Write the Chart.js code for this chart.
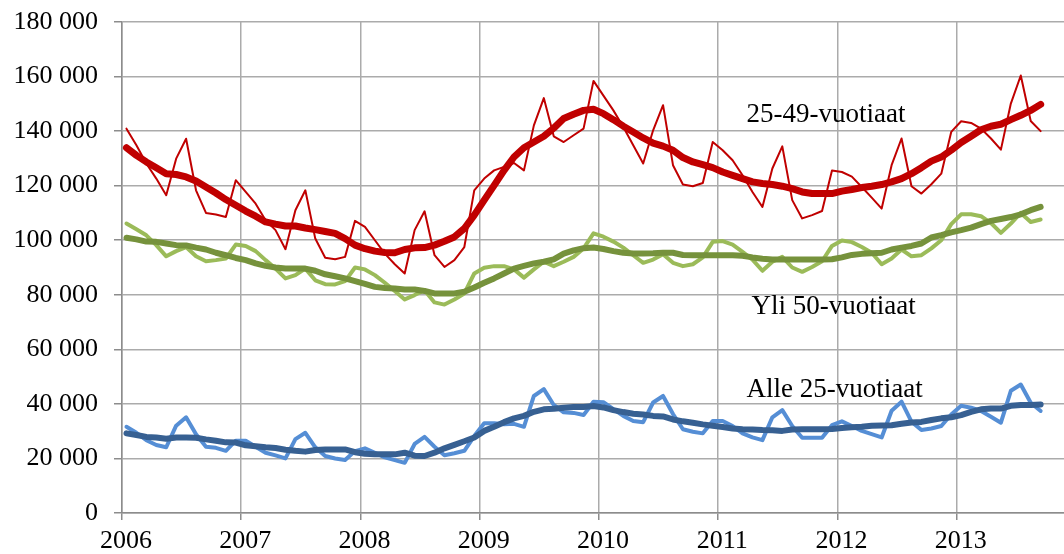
<!DOCTYPE html>
<html lang="fi">
<head>
<meta charset="utf-8">
<title>Työttömät ikäryhmittäin 2006–2013</title>
<script src="https://cdn.jsdelivr.net/npm/chart.js@4.4.0/dist/chart.umd.min.js"></script>
<style>
  html, body { margin: 0; padding: 0; background: #fff; }
  #wrap { width: 1064px; height: 554px; }
</style>
</head>
<body>
<div id="wrap"><canvas id="tyottomat" width="1064" height="554"></canvas></div>
<script>
// Kuukausiaineisto 2006/01 - 2013/09 (93 kk), luettu kuvasta
const alkuVuosi = 2006;
const vuodet = [2006, 2007, 2008, 2009, 2010, 2011, 2012, 2013];
const yTicks = [0, 20000, 40000, 60000, 80000, 100000, 120000, 140000, 160000, 180000];

const ika25_49 = [
  140900, 134800, 128100, 122600, 116500, 129900, 137200, 118300, 110000, 109400, 108500, 122000,
  117700, 113400, 107300, 103700, 96700, 111000, 118300, 100600, 93600, 93000, 93900, 107100,
  104900, 100000, 95100, 91200, 87800, 103700, 110600, 94500, 90200, 92700, 97500, 118300,
  122600, 125600, 126900, 128300, 125600, 142100, 152100, 138100, 136000, 138500, 140900, 158400,
  153000, 147600, 141500, 134800, 128100, 140300, 149500, 127500, 120400, 119800, 121000, 136000,
  133000, 129300, 123800, 117700, 112200, 126300, 134400, 114700, 108000, 109200, 110700, 125600,
  125000, 123300, 119500, 115600, 111600, 127500, 137300, 119800, 117100, 120500, 124400, 139700,
  143600, 143000, 140900, 137300, 133200, 150100, 160400, 143700, 140000
];
const ika25_49_trendi = [
  133900, 131100, 128700, 126600, 124400, 124100, 123200, 121700, 119500, 117300, 114900, 112800,
  110700, 108800, 106700, 105900, 105200, 105200, 104500, 103900, 103200, 102500, 100600, 98200,
  96900, 96000, 95500, 95400, 96600, 97200, 97300, 98200, 99600, 101200, 104300, 109200,
  114700, 120100, 125600, 130500, 133900, 136000, 138100, 141100, 144600, 146200, 147600, 148000,
  146400, 144200, 141800, 139700, 137500, 135600, 134500, 133000, 130300, 128700, 127700, 126600,
  125000, 123800, 122600, 121400, 120800, 120400, 119800, 118900, 117700, 117100, 117100, 117100,
  118000, 118600, 119300, 119800, 120400, 121400, 122600, 124400, 126600, 129000, 130500, 133000,
  135800, 138100, 140500, 141800, 142500, 144200, 145800, 147600, 149800
];
const yli50 = [
  106100, 104000, 101800, 98200, 94100, 96000, 97500, 94100, 92300, 92700, 93300, 98400,
  97900, 96000, 92700, 89600, 86000, 87200, 89600, 85300, 83900, 83800, 85000, 90000,
  89300, 87200, 84400, 81400, 78300, 79900, 81700, 77200, 76400, 78300, 80500, 87800,
  89900, 90500, 90500, 89300, 86300, 89300, 92100, 90500, 92100, 93900, 97000, 102500,
  101300, 99500, 97300, 94500, 91700, 92900, 94900, 91700, 90500, 91200, 93700, 99400,
  99700, 98400, 95700, 92900, 88800, 92100, 93900, 90000, 88400, 90200, 92300, 97900,
  99900, 99300, 97500, 95400, 91200, 93300, 96600, 94100, 94500, 97000, 100000, 105900,
  109500, 109500, 108800, 106300, 102700, 106100, 110000, 106700, 107600
];
const yli50_trendi = [
  100900, 100300, 99500, 99400, 98800, 98200, 98100, 97300, 96600, 95400, 94500, 93500,
  92700, 91500, 90600, 90000, 89600, 89600, 89600, 88800, 87500, 86800, 86000, 85000,
  84000, 82900, 82500, 82300, 81900, 81900, 81400, 80500, 80500, 80500, 81100, 82700,
  84400, 86000, 87800, 89600, 90600, 91500, 92100, 93000, 95100, 96300, 97100, 97300,
  96800, 96000, 95400, 95100, 95100, 95200, 95400, 95400, 94600, 94500, 94500, 94500,
  94500, 94500, 94300, 93700, 93200, 92900, 92900, 92900, 92900, 92900, 92900, 93000,
  93700, 94600, 95000, 95200, 95400, 96600, 97300, 97900, 98800, 101000, 101900, 102900,
  103700, 104600, 105900, 107100, 107800, 108500, 109500, 111000, 112200
];
const alle25 = [
  31600, 29400, 26700, 24900, 24100, 32000, 35100, 28900, 24300, 23900, 22800, 26500,
  26500, 24300, 22100, 21100, 20000, 27100, 29400, 24100, 20900, 20000, 19400, 22700,
  23700, 22100, 20400, 19400, 18400, 25300, 27900, 24300, 21200, 21900, 22800, 28200,
  32900, 32900, 32500, 32700, 31600, 42900, 45400, 39600, 36900, 36700, 35900, 40800,
  40600, 38100, 35600, 33700, 33300, 40500, 42900, 36300, 30700, 29800, 29200, 33700,
  33700, 31900, 29200, 27700, 26700, 35100, 37700, 31900, 27600, 27600, 27600, 32200,
  33600, 31900, 30100, 28900, 27700, 37500, 40800, 33500, 30400, 31000, 31900, 36100,
  39300, 38600, 37400, 35300, 33100, 44800, 47100, 40400, 37400
];
const alle25_trendi = [
  29200, 28600, 27900, 27700, 27200, 27700, 27700, 27600, 27000, 26500, 25900, 25800,
  24800, 24500, 24100, 23800, 23200, 22800, 22500, 23100, 23300, 23300, 23300, 22300,
  21700, 21500, 21500, 21500, 22100, 21000, 20900, 22100, 23700, 25000, 26300, 27700,
  30100, 31600, 33300, 34700, 35600, 37100, 38000, 38200, 38600, 38900, 38900, 39200,
  38700, 37700, 37000, 36400, 36100, 35600, 35400, 34300, 33600, 33100, 32500, 32000,
  31500, 31000, 30700, 30600, 30400, 30300, 30100, 30600, 30700, 30700, 30700, 30800,
  31200, 31400, 31600, 32000, 32100, 32200, 32700, 33200, 33400, 34100, 34700, 35100,
  35900, 37100, 38000, 38300, 38300, 39300, 39600, 39600, 39800
];

const FONT = "'Liberation Serif', 'Times New Roman', serif";

// kuukausi i -> piste kuukauden keskelle
function kk(arr) {
  return arr.map((v, i) => ({ x: i + 0.45, y: v }));
}

function fmtLuku(v) {
  return String(v).replace(/\B(?=(\d{3})+(?!\d))/g, ' ');
}

function sarja(label, arr, color, width, order) {
  return {
    label, data: kk(arr),
    borderColor: color, backgroundColor: color,
    borderWidth: width, pointRadius: 0, tension: 0,
    borderJoinStyle: 'round', borderCapStyle: 'round',
    order
  };
}

// sarjojen nimet kuvan sisään
const nimiPlugin = {
  id: 'sarjanimet',
  afterDatasetsDraw(chart) {
    const { ctx, scales: { x, y } } = chart;
    const nimet = [
      { t: '25-49-vuotiaat', kx: 62.85, ky: 145800 },
      { t: 'Yli 50-vuotiaat', kx: 63.35, ky: 75600 },
      { t: 'Alle 25-vuotiaat', kx: 62.85, ky: 45100 }
    ];
    ctx.save();
    ctx.font = '27px ' + FONT;
    ctx.fillStyle = '#000';
    ctx.textAlign = 'left';
    ctx.textBaseline = 'middle';
    nimet.forEach(n => ctx.fillText(n.t, x.getPixelForValue(n.kx), y.getPixelForValue(n.ky)));
    ctx.restore();
  }
};

const ctx = document.getElementById('tyottomat').getContext('2d');
new Chart(ctx, {
  type: 'line',
  data: {
    datasets: [
      sarja('25-49-vuotiaat', ika25_49, '#c00000', 2, 2),
      sarja('25-49-vuotiaat trendi', ika25_49_trendi, '#c00000', 7, 1),
      sarja('Yli 50-vuotiaat', yli50, '#9bbb59', 4, 2),
      sarja('Yli 50-vuotiaat trendi', yli50_trendi, '#76923c', 6, 1),
      sarja('Alle 25-vuotiaat', alle25, '#558ed5', 4, 2),
      sarja('Alle 25-vuotiaat trendi', alle25_trendi, '#376092', 6, 1)
    ]
  },
  options: {
    responsive: false,
    animation: false,
    events: [],
    layout: { padding: { top: 22, right: 0, bottom: 0, left: 0 } },
    plugins: { legend: { display: false }, tooltip: { enabled: false } },
    scales: {
      x: {
        type: 'linear',
        min: 0, max: 94.8,
        afterFit: s => { s.height = 41; s.paddingLeft = 0; s.paddingRight = 0; },
        afterBuildTicks: s => { s.ticks = vuodet.map(v => ({ value: (v - alkuVuosi) * 12 })); },
        ticks: {
          stepSize: 12, includeBounds: false, autoSkip: false, maxRotation: 0,
          padding: 6, labelOffset: 4, color: '#000',
          font: { family: FONT, size: 26 },
          callback: v => String(alkuVuosi + Math.round(v / 12))
        },
        grid: { color: '#ababab', lineWidth: 1.5, tickLength: 7, tickColor: '#8c8c8c' },
        border: { color: '#8c8c8c', width: 1.5 }
      },
      y: {
        min: 0, max: 180000,
        afterFit: s => { s.width = 122; s.paddingTop = 0; s.paddingBottom = 0; },
        afterBuildTicks: s => { s.ticks = yTicks.map(v => ({ value: v })); },
        ticks: {
          padding: 16, color: '#000',
          font: { family: FONT, size: 26 },
          callback: v => fmtLuku(v)
        },
        grid: { color: '#ababab', lineWidth: 1.5, tickLength: 8, tickColor: '#8c8c8c' },
        border: { color: '#8c8c8c', width: 1.5 }
      }
    }
  },
  plugins: [nimiPlugin]
});
</script>
</body>
</html>
